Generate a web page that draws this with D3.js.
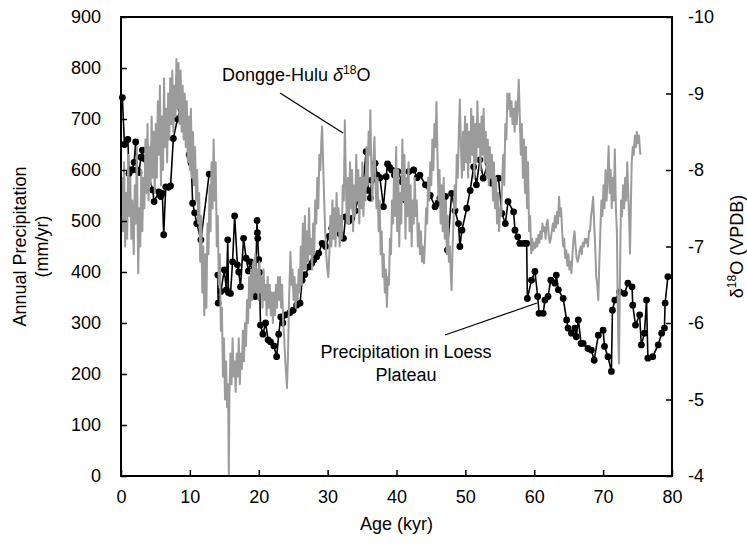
<!DOCTYPE html>
<html lang="en">
<head>
<meta charset="UTF-8">
<title>Loess Plateau precipitation and Dongge-Hulu d18O</title>
<style>
  html, body { margin: 0; padding: 0; background: #fff; }
  svg { display: block; font-family: Arial, "Liberation Sans", sans-serif; }
</style>
</head>
<body>
<script src="https://d3js.org/d3.v7.min.js"></script>
<script>
// axis ticks
const ageTicks = [0, 10, 20, 30, 40, 50, 60, 70, 80];
const precipTicks = [0, 100, 200, 300, 400, 500, 600, 700, 800, 900];
const d18oTicks = [-4, -5, -6, -7, -8, -9, -10];

// Loess Plateau annual precipitation [age kyr, mm/yr]; null = gap in record
const precipitation = [
  [0.2,742],[0.5,650],[1.0,660],[1.16,593],[1.4,600],[1.64,600],[1.9,615],[2.13,655],[2.35,600],
  [2.6,595],[2.9,625],[3.1,639],[3.25,623],[4.6,561],[4.8,538],[5.5,557],[5.75,548],[6.0,554],
  [6.2,473],[6.5,567],[6.9,566],[7.2,569],[7.6,662],[8.2,700],[8.65,721],[9.9,630],[10.2,613],
  [10.4,535],[10.7,516],[11.0,495],[11.6,463],[12.8,592],[13.4,null],
  [14.06,394],[14.1,339],[14.5,362],[15.0,404],[15.3,365],[15.5,463],[15.6,360],[15.9,358],
  [16.2,420],[16.5,510],[16.9,414],[17.1,400],[17.35,371],[17.8,466],[18.16,427],[18.5,402],
  [18.8,420],[19.5,352],[19.75,501],[19.8,477],[19.85,466],[20.0,424],[20.1,399],[20.25,296],
  [20.6,278],[21.0,300],[21.35,267],[21.7,263],[22.2,255],[22.6,234],[22.9,278],[23.2,312],
  [23.5,300],[23.9,316],[24.5,320],[25.0,325],[25.5,335],[26.0,339],[26.3,384],[26.7,395],
  [27.3,410],[27.7,417],[28.0,424],[28.4,430],[28.7,437],[29.2,456],[29.7,450],[30.2,470],
  [30.6,486],[31.3,489],[31.8,475],[32.3,466],[32.6,508],[33.1,500],[33.5,505],[34.0,520],
  [34.5,548],[35.0,554],[35.6,636],[35.9,560],[36.2,545],[36.4,580],[36.9,613],[37.2,590],
  [37.6,585],[38.1,528],[38.5,587],[38.7,612],[39.0,605],[39.3,600],[39.7,590],[40.2,597],
  [40.8,577],[41.3,541],[41.8,597],[42.5,600],[43.0,585],[43.4,590],[44.2,571],[44.9,550],
  [45.6,528],[46.0,535],[46.3,545],[47.1,548],[47.3,495],[47.4,443],[48.0,554],[48.5,520],
  [49.0,495],[49.2,450],[49.5,482],[50.2,525],[50.7,560],[51.2,606],[51.6,571],[52.1,620],
  [52.6,584],[53.3,613],[53.8,574],[54.8,584],[55.3,515],[55.8,495],[56.2,538],[57.0,518],
  [57.2,482],[57.6,469],[57.9,456],[58.5,456],[58.9,456],[59.0,348],[59.6,384],[60.1,401],
  [60.5,352],[60.7,319],[61.3,319],[61.55,345],[62.0,352],[62.4,384],[63.0,378],[63.2,394],
  [63.5,365],[64.2,348],[64.7,306],[64.9,290],[65.4,280],[65.9,290],[66.1,273],[66.4,306],
  [66.8,260],[67.1,260],[67.8,250],[68.3,247],[68.7,227],[69.3,276],[70.0,286],[70.2,254],
  [70.7,234],[71.2,205],[71.35,325],[71.7,345],[72.4,361],[73.1,358],[73.6,378],[74.2,371],
  [74.3,335],[74.7,296],[75.3,316],[75.55,257],[76.0,280],[76.3,345],[76.5,231],[77.2,234],
  [78.0,257],[78.5,280],[78.9,290],[79.0,339],[79.4,391]
];

// Dongge-Hulu speleothem d18O [age kyr, permil VPDB]
const dongge = [
  [0.0,-7.4],[0.15,-7.9],[0.3,-7.2],[0.45,-8.1],[0.6,-7.0],[0.75,-7.7],[0.9,-7.1],[1.05,-8.2],
  [1.2,-7.4],[1.35,-7.9],[1.5,-7.1],[1.65,-7.6],[1.85,-6.9],[2.0,-7.8],[2.15,-7.3],[2.3,-8.3],
  [2.5,-6.65],[2.65,-7.5],[2.8,-7.0],[2.95,-8.0],[3.1,-7.2],[3.25,-7.9],[3.4,-7.5],[3.55,-8.4],
  [3.7,-7.7],[3.85,-8.6],[4.0,-7.6],[4.15,-8.3],[4.3,-7.8],[4.45,-8.7],[4.6,-7.9],[4.75,-8.5],
  [4.9,-7.7],[5.05,-8.6],[5.2,-7.9],[5.35,-8.9],[5.5,-8.2],[5.65,-9.1],[5.8,-7.8],[5.95,-8.7],
  [6.1,-8.0],[6.25,-9.2],[6.4,-8.3],[6.55,-8.8],[6.7,-8.1],[6.85,-9.0],[7.0,-8.4],[7.15,-9.2],
  [7.3,-8.6],[7.45,-9.3],[7.6,-8.5],[7.75,-9.1],[7.9,-8.7],[8.05,-9.45],[8.2,-8.8],[8.35,-9.4],
  [8.5,-8.6],[8.65,-9.3],[8.8,-8.5],[8.95,-9.1],[9.1,-8.4],[9.25,-9.0],[9.4,-8.3],[9.55,-8.9],
  [9.7,-8.1],[9.85,-8.7],[10.0,-8.0],[10.15,-8.8],[10.3,-7.9],[10.45,-8.5],[10.6,-7.8],[10.75,-8.3],
  [10.9,-7.6],[11.05,-8.0],[11.2,-7.3],[11.35,-7.7],[11.5,-6.8],[11.65,-7.4],[11.8,-6.4],[11.95,-7.0],
  [12.1,-6.1],[12.25,-6.9],[12.4,-6.2],[12.55,-7.3],[12.7,-6.9],[12.85,-7.8],[13.0,-7.2],[13.15,-8.1],
  [13.3,-7.5],[13.45,-8.4],[13.6,-7.6],[13.75,-8.1],[13.9,-7.0],[14.05,-7.4],[14.2,-6.5],[14.35,-6.9],
  [14.5,-5.9],[14.65,-6.2],[14.8,-5.3],[14.95,-5.8],[15.1,-5.0],[15.25,-5.5],[15.4,-4.9],[15.55,-5.2],
  [15.65,-4.0],[15.75,-5.1],[15.9,-5.6],[16.05,-5.2],[16.2,-5.8],[16.35,-5.3],[16.5,-5.5],[16.65,-5.1],
  [16.8,-5.6],[16.95,-5.3],[17.1,-5.8],[17.25,-5.2],[17.4,-5.6],[17.55,-5.4],[17.7,-5.9],[17.85,-5.5],
  [18.0,-6.0],[18.15,-5.7],[18.3,-6.3],[18.45,-6.0],[18.6,-6.6],[18.75,-6.2],[18.9,-6.7],[19.05,-6.3],
  [19.2,-6.8],[19.35,-6.4],[19.5,-6.9],[19.65,-6.4],[19.8,-6.7],[19.95,-6.3],[20.1,-6.8],[20.25,-6.4],
  [20.4,-6.6],[20.55,-6.2],[20.7,-6.7],[20.85,-6.3],[21.0,-6.5],[21.15,-6.1],[21.3,-6.6],[21.45,-6.2],
  [21.6,-6.5],[21.75,-6.1],[21.9,-6.4],[22.05,-6.0],[22.2,-6.4],[22.35,-6.1],[22.5,-6.5],[22.65,-6.2],
  [22.8,-6.6],[22.95,-6.3],[23.1,-6.6],[23.25,-6.2],[23.4,-6.5],[23.55,-6.0],[23.7,-5.8],[23.85,-5.5],
  [24.0,-5.3],[24.1,-5.15],[24.25,-5.6],[24.4,-6.3],[24.6,-6.93],[24.75,-6.5],[24.9,-6.7],[25.05,-6.3],
  [25.2,-6.6],[25.35,-6.2],[25.5,-6.5],[25.65,-6.3],[25.8,-6.7],[25.95,-6.4],[26.1,-7.0],[26.25,-6.5],
  [26.4,-7.3],[26.55,-6.7],[26.7,-7.4],[26.85,-6.7],[27.0,-7.2],[27.15,-6.8],[27.3,-7.5],[27.45,-6.9],
  [27.6,-7.1],[27.75,-6.7],[27.9,-7.3],[28.05,-6.9],[28.2,-7.6],[28.35,-7.3],[28.5,-7.9],[28.65,-7.5],
  [28.8,-8.2],[28.95,-8.0],[29.1,-8.4],[29.2,-8.57],[29.35,-8.1],[29.5,-7.6],[29.65,-7.2],[29.8,-6.9],
  [29.95,-6.7],[30.1,-6.6],[30.25,-6.9],[30.4,-7.4],[30.55,-7.0],[30.7,-7.6],[30.85,-7.1],[31.0,-7.5],
  [31.15,-7.0],[31.3,-7.7],[31.45,-7.2],[31.6,-7.5],[31.75,-7.0],[31.9,-7.4],[32.05,-7.1],[32.2,-7.8],
  [32.35,-7.6],[32.5,-8.65],[32.65,-7.8],[32.8,-7.3],[32.95,-7.9],[33.1,-7.3],[33.25,-8.1],[33.4,-7.5],
  [33.55,-8.0],[33.7,-7.2],[33.85,-7.8],[34.0,-7.4],[34.15,-8.2],[34.3,-7.6],[34.45,-8.0],[34.6,-7.3],
  [34.75,-7.9],[34.9,-7.5],[35.05,-8.1],[35.2,-7.4],[35.35,-7.9],[35.5,-7.6],[35.65,-8.3],[35.8,-7.8],
  [35.95,-8.5],[36.1,-8.2],[36.2,-8.78],[36.35,-8.0],[36.5,-7.6],[36.65,-8.1],[36.8,-8.43],[36.95,-7.8],
  [37.1,-7.5],[37.25,-7.9],[37.4,-7.2],[37.55,-7.6],[37.7,-6.9],[37.85,-7.2],[38.0,-6.6],[38.15,-6.9],
  [38.3,-6.4],[38.45,-6.7],[38.6,-6.21],[38.75,-6.6],[38.9,-6.5],[39.05,-7.1],[39.2,-6.9],[39.35,-7.6],
  [39.5,-7.3],[39.65,-8.0],[39.8,-7.4],[39.95,-8.3],[40.1,-7.2],[40.25,-8.0],[40.4,-7.0],[40.55,-7.7],
  [40.7,-7.3],[40.85,-8.4],[41.0,-7.6],[41.15,-8.2],[41.3,-7.1],[41.45,-7.9],[41.6,-7.4],[41.75,-8.1],
  [41.9,-7.2],[42.05,-7.8],[42.2,-7.0],[42.35,-7.6],[42.5,-7.3],[42.65,-7.9],[42.8,-7.4],[42.95,-7.6],
  [43.1,-7.0],[43.25,-7.3],[43.4,-6.9],[43.55,-7.2],[43.7,-6.8],[43.85,-7.0],[44.0,-6.78],[44.15,-7.1],
  [44.3,-7.5],[44.45,-7.3],[44.6,-7.9],[44.75,-7.6],[44.9,-8.1],[45.05,-7.8],[45.2,-8.4],[45.35,-8.0],
  [45.5,-8.6],[45.65,-8.3],[45.8,-8.89],[45.95,-8.2],[46.1,-7.6],[46.25,-8.0],[46.4,-7.3],[46.55,-7.8],
  [46.7,-7.2],[46.85,-7.9],[47.0,-7.1],[47.15,-7.6],[47.3,-6.9],[47.45,-7.4],[47.6,-6.8],[47.75,-7.0],
  [47.9,-6.6],[48.0,-6.43],[48.15,-7.0],[48.3,-7.4],[48.45,-7.8],[48.6,-7.5],[48.75,-8.2],[48.9,-7.9],
  [49.05,-8.5],[49.2,-8.92],[49.35,-8.3],[49.5,-7.9],[49.65,-8.5],[49.8,-8.0],[49.95,-8.7],[50.1,-8.1],
  [50.25,-8.6],[50.4,-7.9],[50.55,-8.5],[50.7,-8.1],[50.85,-8.8],[51.0,-8.2],[51.15,-8.7],[51.3,-7.9],
  [51.45,-8.6],[51.6,-8.1],[51.75,-8.9],[51.9,-8.3],[52.05,-8.6],[52.2,-8.0],[52.35,-8.7],[52.5,-8.2],
  [52.65,-8.8],[52.8,-8.1],[52.95,-8.5],[53.1,-7.9],[53.25,-8.4],[53.4,-7.8],[53.55,-8.3],[53.7,-7.9],
  [53.85,-8.2],[54.0,-7.6],[54.15,-8.1],[54.3,-7.5],[54.45,-7.9],[54.6,-7.3],[54.75,-7.7],[54.9,-7.2],
  [55.05,-7.5],[55.2,-7.4],[55.35,-7.9],[55.5,-8.2],[55.65,-7.8],[55.8,-8.6],[55.95,-8.4],[56.1,-9.0],
  [56.25,-8.8],[56.4,-9.0],[56.55,-8.7],[56.7,-8.9],[56.85,-8.6],[57.0,-8.8],[57.15,-8.5],[57.3,-8.9],
  [57.45,-8.6],[57.6,-8.8],[57.75,-9.18],[57.9,-8.7],[58.05,-8.2],[58.2,-8.6],[58.35,-7.9],[58.5,-8.4],
  [58.65,-7.7],[58.8,-8.3],[58.95,-7.5],[59.1,-8.1],[59.25,-7.2],[59.4,-7.4],[59.55,-6.91],[59.7,-7.1],
  [59.85,-6.95],[60.0,-7.05],[60.15,-6.98],[60.3,-7.1],[60.45,-7.0],[60.6,-7.15],[60.75,-7.05],[60.9,-7.2],
  [61.05,-7.1],[61.2,-7.3],[61.35,-7.2],[61.5,-7.25],[61.65,-7.1],[61.8,-7.3],[61.95,-7.35],[62.1,-7.15],
  [62.25,-7.05],[62.4,-7.1],[62.55,-7.2],[62.7,-7.3],[62.85,-7.2],[63.0,-7.4],[63.15,-7.25],[63.3,-7.45],
  [63.45,-7.3],[63.6,-7.65],[63.75,-7.4],[63.9,-7.5],[64.05,-7.2],[64.2,-7.0],[64.35,-7.1],[64.5,-6.85],
  [64.65,-6.95],[64.8,-6.75],[64.95,-6.9],[65.1,-6.7],[65.25,-6.8],[65.4,-6.65],[65.55,-6.9],[65.7,-7.1],
  [65.85,-7.2],[66.0,-7.0],[66.15,-6.85],[66.3,-6.8],[66.45,-6.85],[66.6,-6.95],[66.75,-7.0],[66.9,-6.9],
  [67.05,-7.05],[67.2,-7.0],[67.35,-7.1],[67.5,-7.05],[67.65,-7.1],[67.8,-7.0],[67.95,-7.2],[68.1,-7.2],
  [68.25,-7.4],[68.4,-7.5],[68.55,-7.65],[68.7,-7.3],[68.85,-7.0],[69.0,-6.6],[69.15,-6.5],[69.3,-6.3],
  [69.45,-6.8],[69.6,-7.2],[69.75,-7.6],[69.9,-7.4],[70.05,-7.8],[70.2,-7.5],[70.35,-8.0],[70.5,-7.6],
  [70.65,-7.9],[70.8,-8.31],[70.95,-7.7],[71.1,-8.0],[71.25,-7.5],[71.4,-7.9],[71.55,-7.6],[71.7,-8.27],
  [71.85,-7.5],[72.0,-7.2],[72.1,-6.4],[72.2,-5.8],[72.3,-5.47],[72.4,-6.2],[72.5,-7.0],[72.6,-7.6],
  [72.75,-7.4],[72.9,-7.8],[73.05,-7.5],[73.2,-7.9],[73.35,-7.6],[73.5,-8.1],[73.65,-7.7],[73.8,-7.3],
  [73.9,-6.91],[74.0,-7.4],[74.15,-8.1],[74.3,-8.3],[74.45,-8.2],[74.6,-8.45],[74.75,-8.3],[74.9,-8.5],
  [75.05,-8.35],[75.2,-8.45],[75.4,-8.2]
];

const width = 747, height = 546;
const margin = {top: 17, right: 75, bottom: 70, left: 121};
const fontSize = 18;

const x = d3.scaleLinear().domain([0, 80]).range([margin.left, width - margin.right]);
const yPrecip = d3.scaleLinear().domain([0, 900]).range([height - margin.bottom, margin.top]);
const yD18o = d3.scaleLinear().domain([-4, -10]).range([height - margin.bottom, margin.top]);

const svg = d3.select("body").append("svg")
  .attr("width", width)
  .attr("height", height)
  .attr("viewBox", [0, 0, width, height])
  .style("font-size", fontSize + "px");

const plotW = width - margin.left - margin.right;
const plotH = height - margin.top - margin.bottom;

// precipitation series (black, with markers)
const precipLine = d3.line()
  .defined(d => d[1] !== null)
  .x(d => x(d[0]))
  .y(d => yPrecip(d[1]));

svg.append("path")
  .datum(precipitation)
  .attr("fill", "none")
  .attr("stroke", "#000")
  .attr("stroke-width", 1.6)
  .attr("d", precipLine);

svg.append("g")
  .selectAll("circle")
  .data(precipitation.filter(d => d[1] !== null))
  .join("circle")
    .attr("cx", d => x(d[0]))
    .attr("cy", d => yPrecip(d[1]))
    .attr("r", 3.4)
    .attr("fill", "#000");

// cave record on top (grey)
const d18oLine = d3.line()
  .x(d => x(d[0]))
  .y(d => yD18o(d[1]));

svg.append("path")
  .datum(dongge)
  .attr("fill", "none")
  .attr("stroke", "#9b9b9b")
  .attr("stroke-width", 2)
  .attr("stroke-linejoin", "round")
  .attr("d", d18oLine);

// axes, ticks pointing inward
const plain = d => String(d);
const axisStyle = g => {
  g.select(".domain").remove();
  g.selectAll(".tick line").attr("stroke", "#000").attr("stroke-width", 1.5);
  g.selectAll(".tick text").attr("fill", "#000").style("font-size", fontSize + "px")
    .attr("font-family", "Arial, 'Liberation Sans', sans-serif");
};

svg.append("g")
  .attr("transform", `translate(0,${height - margin.bottom})`)
  .call(d3.axisBottom(x).tickValues(ageTicks).tickFormat(plain)
    .tickSizeInner(-6).tickSizeOuter(0).tickPadding(14))
  .call(axisStyle);

svg.append("g")
  .attr("transform", `translate(${margin.left},0)`)
  .call(d3.axisLeft(yPrecip).tickValues(precipTicks).tickFormat(plain)
    .tickSizeInner(-6).tickSizeOuter(0).tickPadding(20))
  .call(axisStyle);

svg.append("g")
  .attr("transform", `translate(${width - margin.right},0)`)
  .call(d3.axisRight(yD18o).tickValues(d18oTicks).tickFormat(plain)
    .tickSizeInner(-6).tickSizeOuter(0).tickPadding(16))
  .call(axisStyle);

// plot frame
svg.append("rect")
  .attr("x", margin.left)
  .attr("y", margin.top)
  .attr("width", plotW)
  .attr("height", plotH)
  .attr("fill", "none")
  .attr("stroke", "#000")
  .attr("stroke-width", 2);

// axis titles
svg.append("text")
  .attr("x", x(40))
  .attr("y", 530)
  .attr("text-anchor", "middle")
  .text("Age (kyr)");

const leftTitle = svg.append("text")
  .attr("transform", `translate(26,${margin.top + plotH / 2}) rotate(-90)`)
  .attr("text-anchor", "middle");
leftTitle.append("tspan").attr("x", 0).attr("dy", 0).text("Annual Precipitation");
leftTitle.append("tspan").attr("x", 0).attr("dy", 22).text("(mm/yr)");

const rightTitle = svg.append("text")
  .attr("transform", `translate(743,${margin.top + plotH / 2}) rotate(-90)`)
  .attr("text-anchor", "middle");
rightTitle.append("tspan").text("δ");
rightTitle.append("tspan").attr("dy", -7).style("font-size", "12px").text("18");
rightTitle.append("tspan").attr("dy", 7).text("O (VPDB)");

// annotations
const dongLabel = svg.append("text").attr("x", 222).attr("y", 81);
dongLabel.append("tspan").text("Dongge-Hulu ");
dongLabel.append("tspan").style("font-style", "italic").text("δ");
dongLabel.append("tspan").attr("dy", -7).style("font-size", "12px").text("18");
dongLabel.append("tspan").attr("dy", 7).text("O");

svg.append("line")
  .attr("x1", 280).attr("y1", 93).attr("x2", 343).attr("y2", 133)
  .attr("stroke", "#000").attr("stroke-width", 1.3);

const loessLabel = svg.append("text")
  .attr("text-anchor", "middle");
loessLabel.append("tspan").attr("x", 406).attr("y", 358).text("Precipitation in Loess");
loessLabel.append("tspan").attr("x", 406).attr("y", 381).text("Plateau");

svg.append("line")
  .attr("x1", 445).attr("y1", 335).attr("x2", 537).attr("y2", 303)
  .attr("stroke", "#000").attr("stroke-width", 1.3);
</script>
</body>
</html>
